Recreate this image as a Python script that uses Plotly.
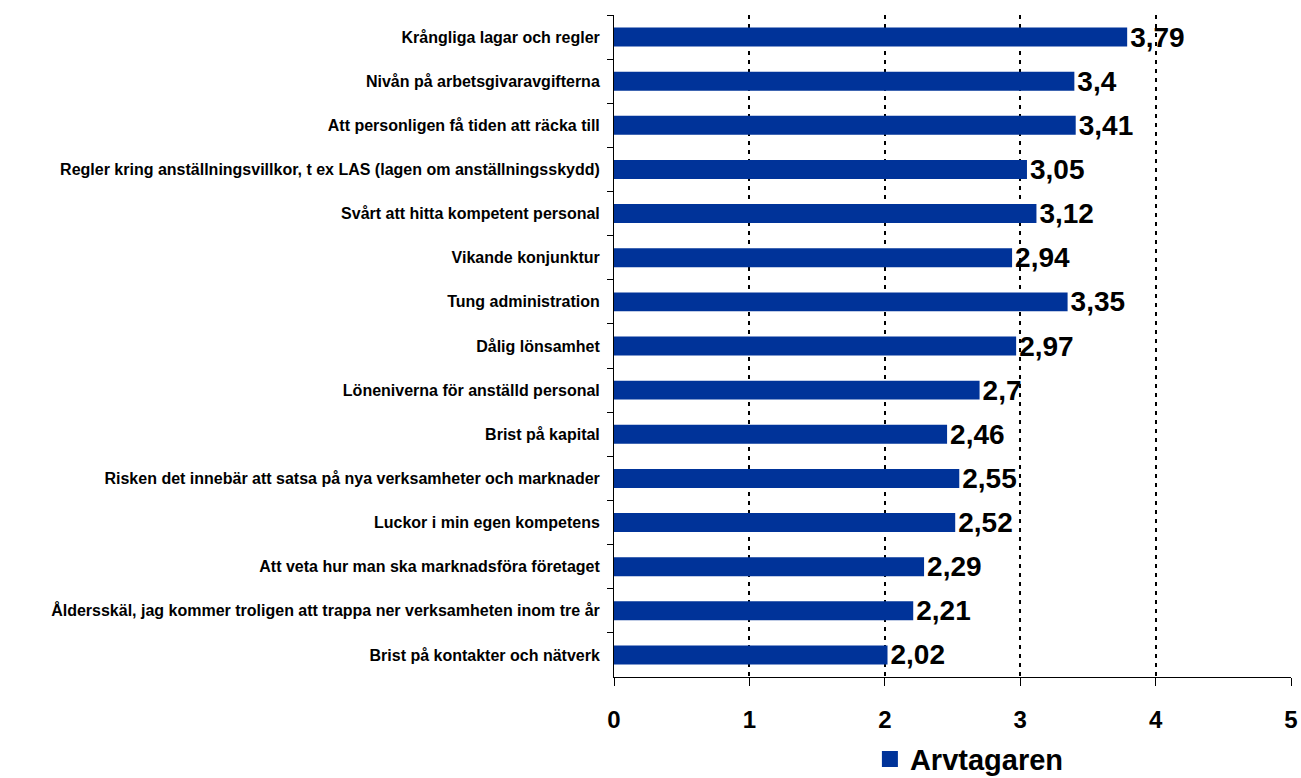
import plotly.graph_objects as go

# Problem areas, listed top to bottom as in the chart
categories = [
    "Krångliga lagar och regler",
    "Nivån på arbetsgivaravgifterna",
    "Att personligen få tiden att räcka till",
    "Regler kring anställningsvillkor, t ex LAS (lagen om anställningsskydd)",
    "Svårt att hitta kompetent personal",
    "Vikande konjunktur",
    "Tung administration",
    "Dålig lönsamhet",
    "Löneniverna för anställd personal",
    "Brist på kapital",
    "Risken det innebär att satsa på nya verksamheter och marknader",
    "Luckor i min egen kompetens",
    "Att veta hur man ska marknadsföra företaget",
    "Åldersskäl, jag kommer troligen att trappa ner verksamheten inom tre år",
    "Brist på kontakter och nätverk",
]
values = [3.79, 3.4, 3.41, 3.05, 3.12, 2.94, 3.35, 2.97, 2.7, 2.46, 2.55, 2.52, 2.29, 2.21, 2.02]
series_name = "Arvtagaren"
x_ticks = [0, 1, 2, 3, 4, 5]

FONT = "Arial, Liberation Sans, sans-serif"
BAR_COLOR = "#003399"

fig = go.Figure()
fig.add_trace(go.Bar(
    y=categories,
    x=values,
    orientation="h",
    name=series_name,
    marker=dict(color=BAR_COLOR, line=dict(width=0)),
    texttemplate="%{x}",
    textposition="outside",
    constraintext="none",
    cliponaxis=False,
    textfont=dict(family=FONT, size=28, color="black", weight="bold"),
    showlegend=False,
))

# legend-only proxy so the legend square can be bigger than the default bar swatch
fig.add_trace(go.Scatter(
    x=[None], y=[None],
    mode="markers",
    name=series_name,
    marker=dict(symbol="square", size=20, color=BAR_COLOR),
    showlegend=True,
))

fig.update_layout(
    width=1301,
    height=778,
    margin=dict(l=614, r=10, t=15, b=101, autoexpand=False),
    paper_bgcolor="white",
    plot_bgcolor="white",
    separators=", ",
    bargap=0.57,
    font=dict(family=FONT, color="black"),
    legend=dict(
        orientation="h",
        x=0.378, xanchor="left",
        y=-0.124, yanchor="middle",
        font=dict(family=FONT, size=29, color="black", weight="bold"),
        itemwidth=30,
        itemsizing="trace",
    ),
)

fig.update_xaxes(
    range=[0, 5],
    tickvals=x_ticks,
    automargin=False,
    showgrid=True,
    gridcolor="black",
    gridwidth=2,
    griddash="4px,5px",
    zeroline=False,
    showline=True,
    linecolor="black",
    linewidth=1,
    ticks="outside",
    ticklen=8,
    tickcolor="black",
    tickfont=dict(family=FONT, size=24, color="black", weight="bold"),
    ticklabelstandoff=13,
)

fig.update_yaxes(
    categoryorder="array",
    categoryarray=categories,
    autorange="reversed",
    automargin=False,
    showgrid=False,
    showline=True,
    linecolor="black",
    linewidth=1,
    ticks="outside",
    ticklen=6,
    tickcolor="black",
    tickson="boundaries",
    ticklabelstandoff=10,
    tickfont=dict(family=FONT, size=16, color="black", weight="bold"),
)

# drop the default body margin so the figure fills the window exactly
fig.write_html(
    "out.html",
    config={"displayModeBar": False},
    post_script="document.body.style.margin='0px'; document.body.style.overflow='hidden';",
)
